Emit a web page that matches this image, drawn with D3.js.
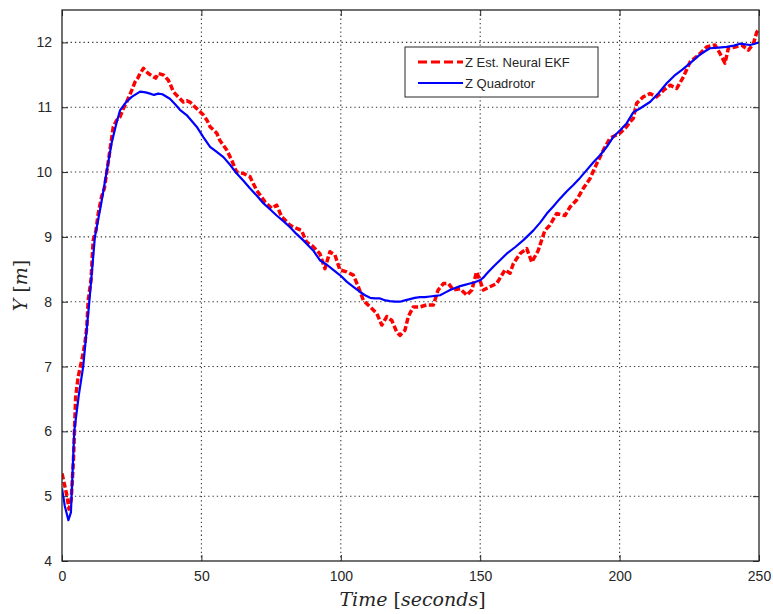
<!DOCTYPE html>
<html>
<head>
<meta charset="utf-8">
<script src="https://cdn.jsdelivr.net/npm/d3@7"></script>
<style>
  html, body { margin: 0; padding: 0; background: #fff; }
  svg { display: block; }
</style>
</head>
<body>
<svg id="chart" width="773" height="614"></svg>
<script>
// Time samples (seconds) and altitude of the quadrotor
const quadT = [0, 1, 2.3, 3.2, 4.4, 6, 7.6, 9.8, 11.8, 14, 16, 17.8, 19.5, 20.8, 23, 25, 28, 30, 31.6, 33, 34.5, 36, 38.7, 40.5, 42.3, 44.7, 48.3, 50.7, 53.1, 55.5, 57.9, 60.5, 62.6, 65, 67.4, 70, 72.2, 74.5, 77, 79.5, 81.8, 84, 86.5, 88.5, 90.1, 92.5, 95, 97.3, 100, 102.1, 104.5, 106.9, 108.7, 110.5, 112.3, 114.1, 116, 117.6, 119.5, 121.2, 123, 124.8, 126.5, 128.4, 130.2, 132, 133.8, 135.6, 137.4, 139.2, 141, 142.8, 144.5, 146.3, 148, 149.9, 151.1, 152.3, 154.7, 157.1, 159.5, 162.5, 165.5, 169.1, 171.5, 173.9, 176.2, 178.6, 181, 183.4, 185.8, 188.2, 190.6, 193, 195.4, 197.7, 200.1, 202.5, 204.9, 207.3, 210.9, 214, 216.9, 220, 222.5, 225.3, 228.5, 230.5, 232.4, 235.5, 238.4, 241, 243.2, 245, 246.8, 248.5, 250];
const quadZ = [5.12, 4.85, 4.63, 4.75, 6.0, 6.55, 7.0, 8.0, 9.0, 9.5, 10.0, 10.45, 10.75, 10.95, 11.08, 11.16, 11.24, 11.23, 11.21, 11.19, 11.21, 11.2, 11.13, 11.05, 10.96, 10.88, 10.7, 10.54, 10.39, 10.31, 10.23, 10.1, 9.98, 9.87, 9.75, 9.63, 9.52, 9.43, 9.33, 9.24, 9.15, 9.05, 8.95, 8.86, 8.79, 8.64, 8.57, 8.49, 8.4, 8.31, 8.23, 8.15, 8.1, 8.06, 8.05, 8.05, 8.02, 8.01, 8.0, 8.0, 8.02, 8.04, 8.06, 8.07, 8.07, 8.08, 8.09, 8.1, 8.14, 8.18, 8.21, 8.24, 8.26, 8.28, 8.3, 8.33, 8.37, 8.43, 8.54, 8.64, 8.74, 8.84, 8.95, 9.1, 9.22, 9.36, 9.47, 9.59, 9.7, 9.8, 9.91, 10.03, 10.15, 10.26, 10.39, 10.54, 10.64, 10.75, 10.92, 10.98, 11.08, 11.22, 11.37, 11.5, 11.58, 11.68, 11.8, 11.86, 11.91, 11.92, 11.93, 11.95, 11.98, 11.97, 11.96, 11.98, 12.0];

// Neural EKF estimate of the altitude
const estT = [0, 1.1, 1.8, 2.5, 3.3, 4.1, 4.9, 5.8, 7.1, 8.2, 8.9, 9.4, 10.4, 11.2, 12.2, 13, 14.2, 15.2, 16, 17.2, 18.4, 19.6, 20.8, 22, 23.2, 25, 26.2, 27.2, 28, 29.2, 30.2, 31, 32.7, 33.6, 34.5, 36.3, 38.1, 38.9, 39.9, 41.7, 43.5, 44.7, 45.9, 48.3, 50.7, 52, 53.1, 55.5, 56.6, 59.1, 60.9, 62.6, 65, 67.4, 69.8, 72.8, 75.2, 77, 78.8, 81.8, 84.2, 85.9, 87.7, 90.1, 92.5, 94.3, 96.1, 97.9, 99.7, 102.1, 104.5, 106.3, 108.1, 110.5, 112.9, 114.7, 116.5, 118.3, 120.1, 121.2, 123, 124.2, 126, 128.4, 130.8, 133.2, 134.9, 136.8, 138.6, 140.4, 142.8, 145.2, 147, 148.7, 149.9, 151.1, 153.5, 155.9, 158.9, 160.7, 161.9, 164.3, 166.7, 168.5, 170.8, 173.2, 175, 177.4, 180.4, 182.2, 184.6, 187, 189.4, 191.8, 194.2, 196.5, 198.3, 200.1, 202.5, 203.7, 204.9, 206.1, 208.5, 210.9, 213.3, 215.7, 218.1, 220.5, 222.9, 225.3, 228.2, 231.2, 234.2, 236, 237.8, 239, 241.4, 243.8, 246.2, 248, 249.2, 250];
const estZ = [5.35, 5.14, 5.0, 4.8, 4.95, 5.55, 6.53, 6.84, 7.1, 7.35, 7.61, 8.02, 8.33, 8.95, 9.1, 9.36, 9.62, 9.75, 9.98, 10.34, 10.7, 10.8, 10.85, 10.98, 11.08, 11.26, 11.39, 11.45, 11.52, 11.6, 11.55, 11.52, 11.47, 11.45, 11.52, 11.5, 11.42, 11.35, 11.24, 11.16, 11.08, 11.1, 11.08, 10.98, 10.88, 10.8, 10.7, 10.6, 10.49, 10.34, 10.18, 10.0, 9.98, 9.93, 9.72, 9.54, 9.44, 9.49, 9.31, 9.18, 9.13, 9.1, 8.92, 8.85, 8.74, 8.51, 8.77, 8.72, 8.49, 8.46, 8.41, 8.23, 8.02, 7.92, 7.82, 7.64, 7.77, 7.71, 7.53, 7.48, 7.56, 7.77, 7.92, 7.92, 7.95, 7.95, 8.18, 8.28, 8.28, 8.18, 8.2, 8.1, 8.18, 8.46, 8.33, 8.18, 8.23, 8.28, 8.49, 8.44, 8.59, 8.74, 8.82, 8.61, 8.79, 9.1, 9.18, 9.36, 9.33, 9.46, 9.57, 9.75, 9.9, 10.13, 10.34, 10.52, 10.56, 10.6, 10.7, 10.77, 10.83, 11.06, 11.16, 11.21, 11.16, 11.26, 11.34, 11.29, 11.47, 11.7, 11.8, 11.93, 11.96, 11.83, 11.68, 11.91, 11.93, 11.96, 11.88, 11.98, 12.16, 12.2];

const xTicks = [0, 50, 100, 150, 200, 250];
const yTicks = [4, 5, 6, 7, 8, 9, 10, 11, 12];
const legendLabels = ["Z Est. Neural EKF", "Z Quadrotor"];

const svg = d3.select("#chart");
const plot = { left: 62, right: 759, top: 10, bottom: 561 };
const frameColor = "#262626";

const x = d3.scaleLinear().domain([0, 250]).range([plot.left, plot.right]);
const y = d3.scaleLinear().domain([4, 12.5]).range([plot.bottom, plot.top]);

// dotted grid
const grid = svg.append("g").attr("stroke", "#333").attr("stroke-width", 1.1)
  .attr("stroke-dasharray", "1.3,3");
grid.selectAll(".gx").data(xTicks.slice(1, -1)).join("line")
  .attr("x1", d => x(d)).attr("x2", d => x(d))
  .attr("y1", plot.top).attr("y2", plot.bottom);
grid.selectAll(".gy").data(yTicks.slice(1)).join("line")
  .attr("x1", plot.left).attr("x2", plot.right)
  .attr("y1", d => y(d)).attr("y2", d => y(d));

// axes with inward ticks on all four sides
const fontFam = "'Liberation Sans', Arial, sans-serif";
const styleAxis = g => {
  g.select(".domain").remove();
  g.selectAll(".tick line").attr("stroke", frameColor);
  g.selectAll(".tick text").attr("fill", frameColor)
    .style("font-family", fontFam).style("font-size", "14px");
};
svg.append("g").attr("transform", `translate(0,${plot.bottom})`)
  .call(d3.axisBottom(x).tickValues(xTicks).tickSizeInner(-6).tickPadding(10).tickSizeOuter(0))
  .call(styleAxis);
svg.append("g").attr("transform", `translate(0,${plot.top})`)
  .call(d3.axisTop(x).tickValues(xTicks).tickSizeInner(-6).tickFormat("").tickSizeOuter(0))
  .call(styleAxis);
svg.append("g").attr("transform", `translate(${plot.left},0)`)
  .call(d3.axisLeft(y).tickValues(yTicks).tickSizeInner(-6).tickPadding(10).tickSizeOuter(0))
  .call(styleAxis);
svg.append("g").attr("transform", `translate(${plot.right},0)`)
  .call(d3.axisRight(y).tickValues(yTicks).tickSizeInner(-6).tickFormat("").tickSizeOuter(0))
  .call(styleAxis);

// series
svg.append("clipPath").attr("id", "clip").append("rect")
  .attr("x", plot.left).attr("y", plot.top)
  .attr("width", plot.right - plot.left).attr("height", plot.bottom - plot.top);

const line = d3.line().x(d => x(d[0])).y(d => y(d[1]));
const quad = quadT.map((t, i) => [t, quadZ[i]]);
const est = estT.map((t, i) => [t, estZ[i]]);

const series = svg.append("g").attr("clip-path", "url(#clip)");
series.append("path").datum(est).attr("d", line)
  .attr("fill", "none").attr("stroke", "#ff0000").attr("stroke-width", 3.5)
  .attr("stroke-dasharray", "6,2.5").attr("stroke-linejoin", "round");
series.append("path").datum(quad).attr("d", line)
  .attr("fill", "none").attr("stroke", "#0000ff").attr("stroke-width", 2.2)
  .attr("stroke-linejoin", "round");

// frame
svg.append("rect").attr("x", plot.left).attr("y", plot.top)
  .attr("width", plot.right - plot.left).attr("height", plot.bottom - plot.top)
  .attr("fill", "none").attr("stroke", frameColor).attr("stroke-width", 1.3);

// legend
const lg = svg.append("g").attr("transform", "translate(405,47)");
lg.append("rect").attr("width", 193).attr("height", 50)
  .attr("fill", "#fff").attr("stroke", frameColor).attr("stroke-width", 1);
const rows = [
  { label: legendLabels[0], color: "#ff0000", dash: "9,4", w: 3, yy: 15 },
  { label: legendLabels[1], color: "#0000ff", dash: null, w: 2.2, yy: 36 }
];
rows.forEach(r => {
  lg.append("line").attr("x1", 13).attr("x2", 58).attr("y1", r.yy).attr("y2", r.yy)
    .attr("stroke", r.color).attr("stroke-width", r.w)
    .attr("stroke-dasharray", r.dash);
  lg.append("text").attr("x", 60).attr("y", r.yy).attr("dy", "0.35em")
    .attr("fill", frameColor).style("font-family", fontFam).style("font-size", "13px")
    .text(r.label);
});

// axis titles
const serif = "'DejaVu Serif', 'Liberation Serif', serif";
const xt = svg.append("text").attr("x", (plot.left + plot.right) / 2 + 2).attr("y", 606)
  .attr("text-anchor", "middle").attr("fill", frameColor)
  .style("font-family", serif).style("font-size", "19px");
xt.append("tspan").style("font-style", "italic").text("Time");
xt.append("tspan").text(" [");
xt.append("tspan").style("font-style", "italic").text("seconds");
xt.append("tspan").text("]");

const yt = svg.append("text").attr("transform", `translate(27,${(plot.top + plot.bottom) / 2}) rotate(-90)`)
  .attr("text-anchor", "middle").attr("fill", frameColor)
  .style("font-family", serif).style("font-size", "19px");
yt.append("tspan").style("font-style", "italic").text("Y");
yt.append("tspan").text(" [");
yt.append("tspan").style("font-style", "italic").text("m");
yt.append("tspan").text("]");
</script>
</body>
</html>
